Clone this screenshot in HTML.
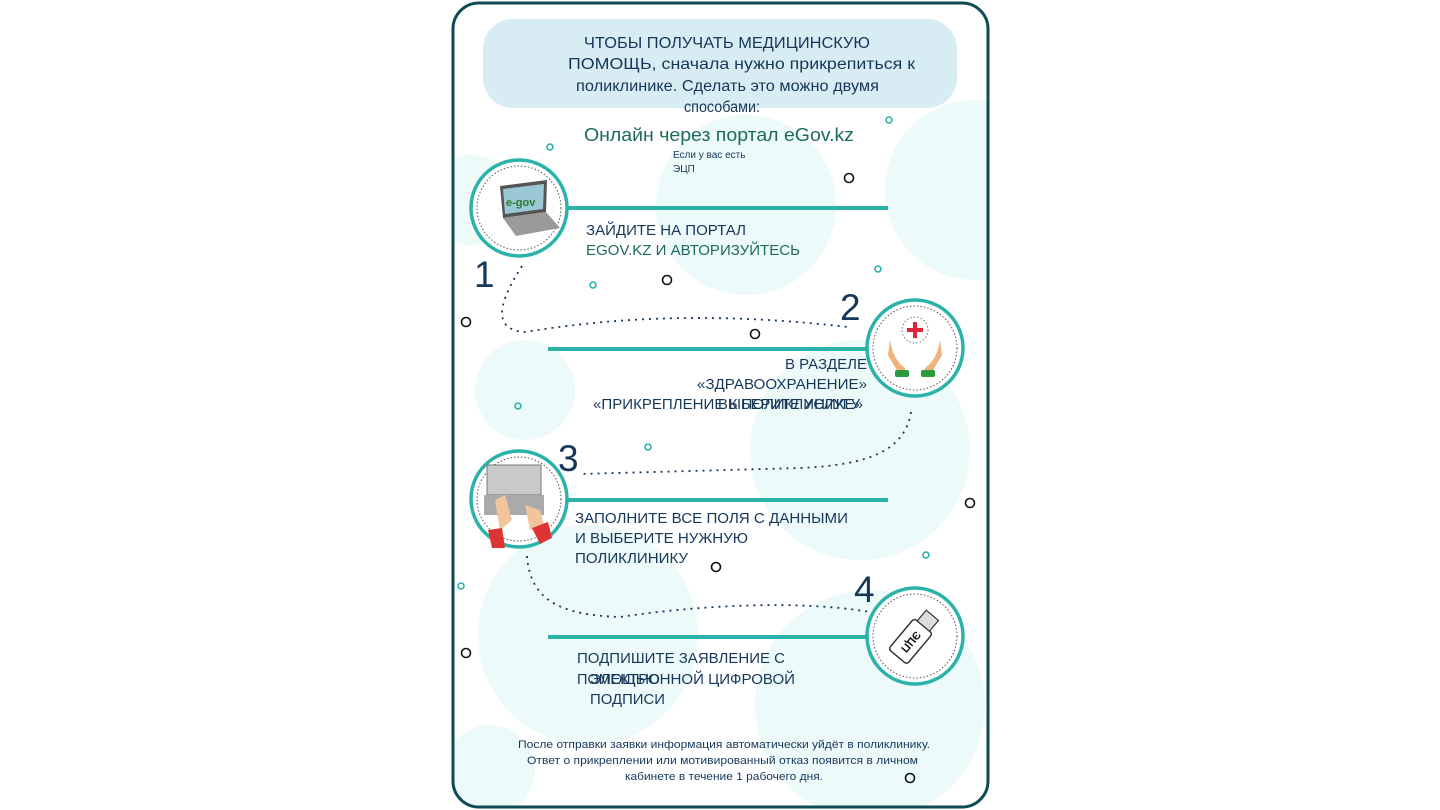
<!DOCTYPE html>
<html><head><meta charset="utf-8"><style>
html,body{margin:0;padding:0;background:#fff;width:1440px;height:810px;overflow:hidden}
svg{display:block}
text{font-family:"Liberation Sans","DejaVu Sans",sans-serif}
</style></head><body>
<svg width="1440" height="810" viewBox="0 0 1440 810" xmlns="http://www.w3.org/2000/svg">
<defs><clipPath id="card"><rect x="453" y="3" width="535" height="804" rx="26"/></clipPath></defs>
<g clip-path="url(#card)">
<rect x="453" y="3" width="535" height="804" fill="#fff"/>
<g fill="#ecfafa">
<circle cx="746" cy="205" r="90"/>
<circle cx="975" cy="190" r="90"/>
<circle cx="470" cy="200" r="45"/>
<circle cx="860" cy="450" r="110"/>
<circle cx="525" cy="390" r="50"/>
<circle cx="588" cy="635" r="110"/>
<circle cx="870" cy="705" r="115"/>
<circle cx="490" cy="770" r="45"/>
</g>
</g>
<rect x="453" y="3" width="535" height="804" rx="26" fill="none" stroke="#0e4b55" stroke-width="3"/>
<rect x="483" y="19" width="474" height="89" rx="30" fill="#d8edf3"/>
<g fill="#16375a" font-size="15.5">
<text x="584" y="48" textLength="286" lengthAdjust="spacingAndGlyphs">ЧТОБЫ ПОЛУЧАТЬ МЕДИЦИНСКУЮ</text>
<text x="568" y="69" textLength="347" lengthAdjust="spacingAndGlyphs">ПОМОЩЬ, сначала нужно прикрепиться к</text>
<text x="576" y="91" textLength="303" lengthAdjust="spacingAndGlyphs">поликлинике. Сделать это можно двумя</text>
<text x="684" y="112" textLength="76" lengthAdjust="spacingAndGlyphs">способами:</text>
</g>
<text x="584" y="141" font-size="18" fill="#1d6a5f" textLength="270" lengthAdjust="spacingAndGlyphs">Онлайн через портал eGov.kz</text>
<text x="673" y="158" font-size="10" fill="#16375a">Если у вас есть</text>
<text x="673" y="172" font-size="10" fill="#16375a">ЭЦП</text>
<g fill="none" stroke-width="1.6">
<g stroke="#2bb3aa"><circle cx="889" cy="120" r="3"/><circle cx="550" cy="147" r="3"/><circle cx="878" cy="269" r="3"/><circle cx="593" cy="285" r="3"/><circle cx="518" cy="406" r="3"/><circle cx="648" cy="447" r="3"/><circle cx="926" cy="555" r="3"/><circle cx="461" cy="586" r="3"/></g>
<g stroke="#111"><circle cx="849" cy="178" r="4.5"/><circle cx="667" cy="280" r="4.5"/><circle cx="466" cy="322" r="4.5"/><circle cx="755" cy="334" r="4.5"/><circle cx="970" cy="503" r="4.5"/><circle cx="716" cy="567" r="4.5"/><circle cx="466" cy="653" r="4.5"/><circle cx="910" cy="778" r="4.5"/></g>
</g>
<g stroke="#2bb3aa" stroke-width="4">
<line x1="565" y1="208" x2="888" y2="208"/>
<line x1="548" y1="349" x2="870" y2="349"/>
<line x1="565" y1="500" x2="888" y2="500"/>
<line x1="548" y1="637" x2="870" y2="637"/>
</g>
<g fill="none" stroke="#16375a" stroke-width="1.8" stroke-dasharray="2,5">
<path d="M522 266 C500 300 490 330 525 332 C600 320 700 310 848 327"/>
<path d="M911 412 C905 450 870 465 800 468 L580 474"/>
<path d="M527 556 C530 600 560 615 620 617 C700 605 800 600 870 612"/>
</g>
<g fill="#fff" stroke="#2bb3aa" stroke-width="3.5">
<circle cx="519" cy="208" r="48"/><circle cx="915" cy="348" r="48"/><circle cx="519" cy="499" r="48"/><circle cx="915" cy="636" r="48"/>
</g>
<g fill="none" stroke="#555" stroke-width="1" stroke-dasharray="1.5,2">
<circle cx="519" cy="208" r="42"/><circle cx="915" cy="348" r="42"/><circle cx="519" cy="499" r="42"/><circle cx="915" cy="636" r="42"/>
</g>
<polygon points="500,186 547,180 546,212 503,218" fill="#555"/>
<polygon points="503,189 544,184 543,209 505,214" fill="#9cc8d6"/>
<text x="506" y="206" font-size="11" fill="#2a7a2a" font-weight="bold">e-gov</text>
<polygon points="503,218 546,212 560,228 516,236" fill="#9a9a9a"/>
<circle cx="915" cy="330" r="13" fill="none" stroke="#777" stroke-dasharray="1.5,2"/>
<rect x="913" y="322" width="4" height="16" fill="#e0253a"/><rect x="907" y="328" width="16" height="4" fill="#e0253a"/>
<path d="M890 340 Q893 360 905 368 L905 372 L898 372 L888 355 Z" fill="#f0b27a"/>
<path d="M940 340 Q937 360 925 368 L925 372 L932 372 L942 355 Z" fill="#f0b27a"/>
<rect x="895" y="370" width="14" height="7" rx="2" fill="#2a9a3c"/><rect x="921" y="370" width="14" height="7" rx="2" fill="#2a9a3c"/>
<rect x="487" y="465" width="54" height="30" fill="#c9c9c9" stroke="#777"/>
<rect x="484" y="495" width="60" height="20" fill="#aaa"/>
<path d="M495 500 L505 495 L512 520 L500 530 Z" fill="#f2c49b"/>
<path d="M525 505 L540 510 L545 528 L530 530 Z" fill="#f2c49b"/>
<path d="M488 530 L502 528 L505 548 L492 548 Z" fill="#d33"/>
<path d="M532 528 L548 522 L552 538 L540 544 Z" fill="#d33"/>
<g transform="rotate(-50 915 636)">
<rect x="888" y="624" width="40" height="24" rx="3" fill="#fff" stroke="#333" stroke-width="1.5"/>
<rect x="928" y="628" width="14" height="16" fill="#ddd" stroke="#333" stroke-width="1.2"/>
<text x="908" y="641" font-size="11" font-weight="bold" text-anchor="middle" fill="#111" transform="rotate(180 908 637)">ЭЦП</text>
</g>
<g fill="#16375a" font-size="37">
<text x="474" y="287">1</text><text x="840" y="320">2</text><text x="558" y="471">3</text><text x="854" y="602">4</text>
</g>
<g font-size="14.5" fill="#16375a">
<text x="586" y="235" textLength="160" lengthAdjust="spacingAndGlyphs">ЗАЙДИТЕ НА ПОРТАЛ</text>
<text x="586" y="255" fill="#1d6a5f" textLength="214" lengthAdjust="spacingAndGlyphs">EGOV.KZ И АВТОРИЗУЙТЕСЬ</text>
<text x="785" y="369" textLength="82" lengthAdjust="spacingAndGlyphs">В РАЗДЕЛЕ</text>
<text x="697" y="389" textLength="170" lengthAdjust="spacingAndGlyphs">«ЗДРАВООХРАНЕНИЕ»</text>
<text x="593" y="409" textLength="270" lengthAdjust="spacingAndGlyphs">«ПРИКРЕПЛЕНИЕ К ПОЛИКЛИНИКЕ»</text>
<text x="718" y="409" textLength="142" lengthAdjust="spacingAndGlyphs">ВЫБЕРИТЕ УСЛУГУ</text>
<text x="575" y="523" textLength="273" lengthAdjust="spacingAndGlyphs">ЗАПОЛНИТЕ ВСЕ ПОЛЯ С ДАННЫМИ</text>
<text x="575" y="543" textLength="173" lengthAdjust="spacingAndGlyphs">И ВЫБЕРИТЕ НУЖНУЮ</text>
<text x="575" y="563" textLength="113" lengthAdjust="spacingAndGlyphs">ПОЛИКЛИНИКУ</text>
<text x="577" y="663" textLength="208" lengthAdjust="spacingAndGlyphs">ПОДПИШИТЕ ЗАЯВЛЕНИЕ С</text>
<text x="577" y="684" textLength="83" lengthAdjust="spacingAndGlyphs">ПОМОЩЬЮ</text>
<text x="590" y="684" textLength="205" lengthAdjust="spacingAndGlyphs">ЭЛЕКТРОННОЙ ЦИФРОВОЙ</text>
<text x="590" y="704" textLength="75" lengthAdjust="spacingAndGlyphs">ПОДПИСИ</text>
</g>
<g font-size="11" fill="#16375a">
<text x="518" y="748" textLength="412" lengthAdjust="spacingAndGlyphs">После отправки заявки информация автоматически уйдёт в поликлинику.</text>
<text x="527" y="764" textLength="391" lengthAdjust="spacingAndGlyphs">Ответ о прикреплении или мотивированный отказ появится в личном</text>
<text x="625" y="780" textLength="198" lengthAdjust="spacingAndGlyphs">кабинете в течение 1 рабочего дня.</text>
</g>
</svg>
</body></html>
